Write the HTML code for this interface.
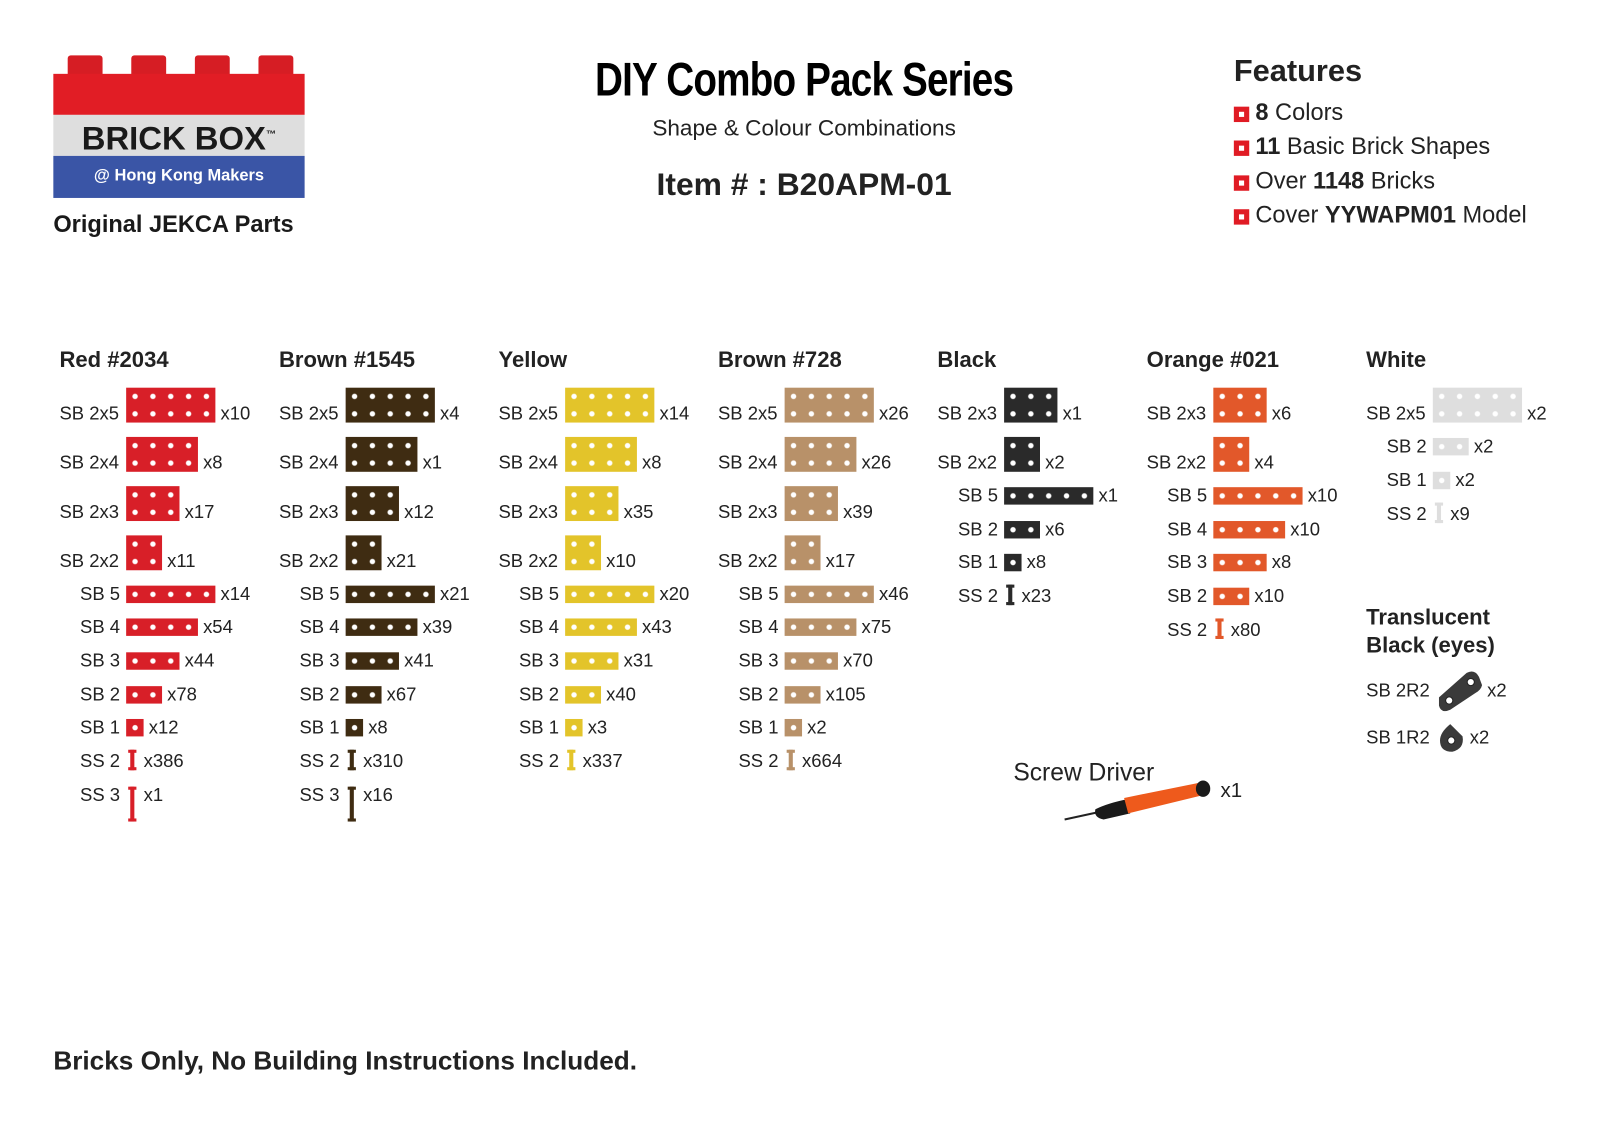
<!DOCTYPE html>
<html><head><meta charset="utf-8"><style>
*{margin:0;padding:0;box-sizing:border-box}
body{width:1600px;height:1132px;background:#fff;overflow:hidden;font-family:"Liberation Sans",Arial,sans-serif;color:#222}
.w{position:absolute;left:0;top:0;width:1560px;height:1104px;transform:scale(1.02564);transform-origin:0 0}
.a{position:absolute;white-space:nowrap}
.r{position:absolute;display:flex;align-items:flex-end;font-size:18px;line-height:17px;white-space:nowrap}
.l{display:inline-block;width:65px}
.l2{display:inline-block;width:45px}
.b{display:inline-block;margin-right:5px;background-image:radial-gradient(circle,#fff 2.2px,rgba(255,255,255,0) 3px);background-size:17.4px 17px}
.d2{height:34px}.d1{height:17px}
.w5{width:87px}.w4{width:70px}.w3{width:52px}.w2{width:35px}.w1{width:17px}
.c1{background-color:#d81f28}.c2{background-color:#3f2c12}.c3{background-color:#e3c42a}.c4{background-color:#b89169}.c5{background-color:#2a2a2a}.c6{background-color:#e2582a}.c7{background-color:#dedede}
.s{display:inline-block;width:4px;height:20px;margin:-3px 9px 0 4px;position:relative}
.s:before,.s:after{content:"";position:absolute;left:-2px;width:8px;height:3px;background:inherit}
.s:before{top:0}.s:after{bottom:0}
.s3{height:34px;margin-top:0;margin-bottom:-17px}
.h{position:absolute;font-size:21.5px;font-weight:bold;white-space:nowrap}
.f{position:absolute;left:1203px;font-size:23px;white-space:nowrap}
.f:before{content:"";position:absolute;left:0;top:8px;width:15px;height:15px;background:#e01b24}
.f span.q{display:inline-block;width:21px}
.f i{position:absolute;left:5px;top:13px;width:5px;height:5px;background:#fff}
</style></head><body><div class="w">
<!-- logo -->
<div class="a" style="left:66px;top:54px;width:34px;height:20px;background:#d61d24;border-radius:3px 3px 0 0"></div>
<div class="a" style="left:128px;top:54px;width:34px;height:20px;background:#d61d24;border-radius:3px 3px 0 0"></div>
<div class="a" style="left:190px;top:54px;width:34px;height:20px;background:#d61d24;border-radius:3px 3px 0 0"></div>
<div class="a" style="left:252px;top:54px;width:34px;height:20px;background:#d61d24;border-radius:3px 3px 0 0"></div>
<div class="a" style="left:52px;top:72px;width:245px;height:40px;background:#e11d25"></div>
<div class="a" style="left:52px;top:112px;width:245px;height:40px;background:#dedede;text-align:center;font-weight:bold;font-size:32px;line-height:40px;color:#1a1a1a">BRICK BOX<sup style="font-size:10px">™</sup></div>
<div class="a" style="left:52px;top:152px;width:245px;height:41px;background:#3a55a6;text-align:center;font-weight:bold;font-size:16px;line-height:40px;color:#fff">@ Hong Kong Makers</div>
<div class="a" style="left:52px;top:205px;font-weight:bold;font-size:23px;color:#1a1a1a">Original JEKCA Parts</div>
<!-- title -->
<div class="a" style="left:484px;top:50px;width:600px;text-align:center;font-weight:bold;font-size:46px;color:#000;transform:scaleX(0.82);letter-spacing:-1px">DIY Combo Pack Series</div>
<div class="a" style="left:584px;top:112px;width:400px;text-align:center;font-size:22px">Shape &amp; Colour Combinations</div>
<div class="a" style="left:584px;top:162px;width:400px;text-align:center;font-size:31px;font-weight:bold">Item # : B20APM-01</div>
<!-- features -->
<div class="a" style="left:1203px;top:53px;font-size:30px;font-weight:bold">Features</div>
<div class="f" style="top:96px"><i></i><span class="q"></span><b>8</b> Colors</div>
<div class="f" style="top:129px"><i></i><span class="q"></span><b>11</b> Basic Brick Shapes</div>
<div class="f" style="top:163px"><i></i><span class="q"></span>Over <b>1148</b> Bricks</div>
<div class="f" style="top:196px"><i></i><span class="q"></span>Cover <b>YYWAPM01</b> Model</div>

<!-- headers -->
<div class="h" style="left:58px;top:339px">Red #2034</div>
<div class="h" style="left:272px;top:339px">Brown #1545</div>
<div class="h" style="left:486px;top:339px">Yellow</div>
<div class="h" style="left:700px;top:339px">Brown #728</div>
<div class="h" style="left:914px;top:339px">Black</div>
<div class="h" style="left:1118px;top:339px">Orange #021</div>
<div class="h" style="left:1332px;top:339px">White</div>

<!-- Red -->
<div class="r" style="left:58px;top:378px"><span class="l">SB 2x5</span><i class="b d2 w5 c1"></i>x10</div>
<div class="r" style="left:58px;top:426px"><span class="l">SB 2x4</span><i class="b d2 w4 c1"></i>x8</div>
<div class="r" style="left:58px;top:474px"><span class="l">SB 2x3</span><i class="b d2 w3 c1"></i>x17</div>
<div class="r" style="left:58px;top:522px"><span class="l">SB 2x2</span><i class="b d2 w2 c1"></i>x11</div>
<div class="r" style="left:78px;top:571px"><span class="l2">SB 5</span><i class="b d1 w5 c1"></i>x14</div>
<div class="r" style="left:78px;top:603px"><span class="l2">SB 4</span><i class="b d1 w4 c1"></i>x54</div>
<div class="r" style="left:78px;top:636px"><span class="l2">SB 3</span><i class="b d1 w3 c1"></i>x44</div>
<div class="r" style="left:78px;top:669px"><span class="l2">SB 2</span><i class="b d1 w2 c1"></i>x78</div>
<div class="r" style="left:78px;top:701px"><span class="l2">SB 1</span><i class="b d1 w1 c1"></i>x12</div>
<div class="r" style="left:78px;top:734px"><span class="l2">SS 2</span><i class="s c1"></i>x386</div>
<div class="r" style="left:78px;top:767px"><span class="l2">SS 3</span><i class="s s3 c1"></i>x1</div>
<!-- Brown 1545 -->
<div class="r" style="left:272px;top:378px"><span class="l">SB 2x5</span><i class="b d2 w5 c2"></i>x4</div>
<div class="r" style="left:272px;top:426px"><span class="l">SB 2x4</span><i class="b d2 w4 c2"></i>x1</div>
<div class="r" style="left:272px;top:474px"><span class="l">SB 2x3</span><i class="b d2 w3 c2"></i>x12</div>
<div class="r" style="left:272px;top:522px"><span class="l">SB 2x2</span><i class="b d2 w2 c2"></i>x21</div>
<div class="r" style="left:292px;top:571px"><span class="l2">SB 5</span><i class="b d1 w5 c2"></i>x21</div>
<div class="r" style="left:292px;top:603px"><span class="l2">SB 4</span><i class="b d1 w4 c2"></i>x39</div>
<div class="r" style="left:292px;top:636px"><span class="l2">SB 3</span><i class="b d1 w3 c2"></i>x41</div>
<div class="r" style="left:292px;top:669px"><span class="l2">SB 2</span><i class="b d1 w2 c2"></i>x67</div>
<div class="r" style="left:292px;top:701px"><span class="l2">SB 1</span><i class="b d1 w1 c2"></i>x8</div>
<div class="r" style="left:292px;top:734px"><span class="l2">SS 2</span><i class="s c2"></i>x310</div>
<div class="r" style="left:292px;top:767px"><span class="l2">SS 3</span><i class="s s3 c2"></i>x16</div>
<!-- Yellow -->
<div class="r" style="left:486px;top:378px"><span class="l">SB 2x5</span><i class="b d2 w5 c3"></i>x14</div>
<div class="r" style="left:486px;top:426px"><span class="l">SB 2x4</span><i class="b d2 w4 c3"></i>x8</div>
<div class="r" style="left:486px;top:474px"><span class="l">SB 2x3</span><i class="b d2 w3 c3"></i>x35</div>
<div class="r" style="left:486px;top:522px"><span class="l">SB 2x2</span><i class="b d2 w2 c3"></i>x10</div>
<div class="r" style="left:506px;top:571px"><span class="l2">SB 5</span><i class="b d1 w5 c3"></i>x20</div>
<div class="r" style="left:506px;top:603px"><span class="l2">SB 4</span><i class="b d1 w4 c3"></i>x43</div>
<div class="r" style="left:506px;top:636px"><span class="l2">SB 3</span><i class="b d1 w3 c3"></i>x31</div>
<div class="r" style="left:506px;top:669px"><span class="l2">SB 2</span><i class="b d1 w2 c3"></i>x40</div>
<div class="r" style="left:506px;top:701px"><span class="l2">SB 1</span><i class="b d1 w1 c3"></i>x3</div>
<div class="r" style="left:506px;top:734px"><span class="l2">SS 2</span><i class="s c3"></i>x337</div>
<!-- Brown 728 -->
<div class="r" style="left:700px;top:378px"><span class="l">SB 2x5</span><i class="b d2 w5 c4"></i>x26</div>
<div class="r" style="left:700px;top:426px"><span class="l">SB 2x4</span><i class="b d2 w4 c4"></i>x26</div>
<div class="r" style="left:700px;top:474px"><span class="l">SB 2x3</span><i class="b d2 w3 c4"></i>x39</div>
<div class="r" style="left:700px;top:522px"><span class="l">SB 2x2</span><i class="b d2 w2 c4"></i>x17</div>
<div class="r" style="left:720px;top:571px"><span class="l2">SB 5</span><i class="b d1 w5 c4"></i>x46</div>
<div class="r" style="left:720px;top:603px"><span class="l2">SB 4</span><i class="b d1 w4 c4"></i>x75</div>
<div class="r" style="left:720px;top:636px"><span class="l2">SB 3</span><i class="b d1 w3 c4"></i>x70</div>
<div class="r" style="left:720px;top:669px"><span class="l2">SB 2</span><i class="b d1 w2 c4"></i>x105</div>
<div class="r" style="left:720px;top:701px"><span class="l2">SB 1</span><i class="b d1 w1 c4"></i>x2</div>
<div class="r" style="left:720px;top:734px"><span class="l2">SS 2</span><i class="s c4"></i>x664</div>
<!-- Black -->
<div class="r" style="left:914px;top:378px"><span class="l">SB 2x3</span><i class="b d2 w3 c5"></i>x1</div>
<div class="r" style="left:914px;top:426px"><span class="l">SB 2x2</span><i class="b d2 w2 c5"></i>x2</div>
<div class="r" style="left:934px;top:475px"><span class="l2">SB 5</span><i class="b d1 w5 c5"></i>x1</div>
<div class="r" style="left:934px;top:508px"><span class="l2">SB 2</span><i class="b d1 w2 c5"></i>x6</div>
<div class="r" style="left:934px;top:540px"><span class="l2">SB 1</span><i class="b d1 w1 c5"></i>x8</div>
<div class="r" style="left:934px;top:573px"><span class="l2">SS 2</span><i class="s c5"></i>x23</div>
<!-- Orange -->
<div class="r" style="left:1118px;top:378px"><span class="l">SB 2x3</span><i class="b d2 w3 c6"></i>x6</div>
<div class="r" style="left:1118px;top:426px"><span class="l">SB 2x2</span><i class="b d2 w2 c6"></i>x4</div>
<div class="r" style="left:1138px;top:475px"><span class="l2">SB 5</span><i class="b d1 w5 c6"></i>x10</div>
<div class="r" style="left:1138px;top:508px"><span class="l2">SB 4</span><i class="b d1 w4 c6"></i>x10</div>
<div class="r" style="left:1138px;top:540px"><span class="l2">SB 3</span><i class="b d1 w3 c6"></i>x8</div>
<div class="r" style="left:1138px;top:573px"><span class="l2">SB 2</span><i class="b d1 w2 c6"></i>x10</div>
<div class="r" style="left:1138px;top:606px"><span class="l2">SS 2</span><i class="s c6"></i>x80</div>
<!-- White -->
<div class="r" style="left:1332px;top:378px"><span class="l">SB 2x5</span><i class="b d2 w5 c7"></i>x2</div>
<div class="r" style="left:1352px;top:427px"><span class="l2">SB 2</span><i class="b d1 w2 c7"></i>x2</div>
<div class="r" style="left:1352px;top:460px"><span class="l2">SB 1</span><i class="b d1 w1 c7"></i>x2</div>
<div class="r" style="left:1352px;top:493px"><span class="l2">SS 2</span><i class="s c7"></i>x9</div>

<!-- translucent -->
<div class="h" style="left:1332px;top:589px;line-height:27px">Translucent<br>Black (eyes)</div>
<div class="a" style="left:1332px;top:663px;font-size:18px">SB 2R2</div>
<div class="a" style="left:1450px;top:663px;font-size:18px">x2</div>
<div class="a" style="left:1332px;top:709px;font-size:18px">SB 1R2</div>
<div class="a" style="left:1433px;top:709px;font-size:18px">x2</div>
<svg class="a" style="left:1400px;top:652px" width="50" height="45" viewBox="0 0 50 45">
<path d="M3 28 L30 4 Q38 0 42 8 L45 16 Q44 21 38 24 L14 40 Q5 44 3 36 Z" fill="#3a3a3a"/>
<circle cx="13" cy="31" r="3.5" fill="#fff" stroke="#222"/><circle cx="34" cy="13" r="3.5" fill="#fff" stroke="#222"/></svg>
<svg class="a" style="left:1400px;top:702px" width="30" height="34" viewBox="0 0 30 34">
<path d="M14 4 L26 16 Q28 28 16 31 Q4 31 4 20 Q4 12 14 4Z" fill="#3a3a3a"/><circle cx="15" cy="20" r="3.5" fill="#fff" stroke="#222"/></svg>

<!-- screw driver -->
<div class="a" style="left:988px;top:740px;font-size:24px">Screw Driver</div>
<div class="a" style="left:1190px;top:760px;font-size:20px">x1</div>
<svg class="a" style="left:1030px;top:755px" width="160" height="50" viewBox="0 0 160 50">
<line x1="8" y1="44" x2="45" y2="36" stroke="#222" stroke-width="2"/>
<path d="M38 34 Q50 28 70 24 L72 38 L46 44 Q36 42 38 34 Z" fill="#1a1a1a"/>
<path d="M66 23 L140 8 L144 20 L70 38 Z" fill="#ee5a1c"/>
<ellipse cx="143" cy="14" rx="7" ry="8" fill="#1a1a1a"/>
</svg>

<div class="a" style="left:52px;top:1021px;font-size:25.5px;font-weight:bold">Bricks Only, No Building Instructions Included.</div>
</div></body></html>
